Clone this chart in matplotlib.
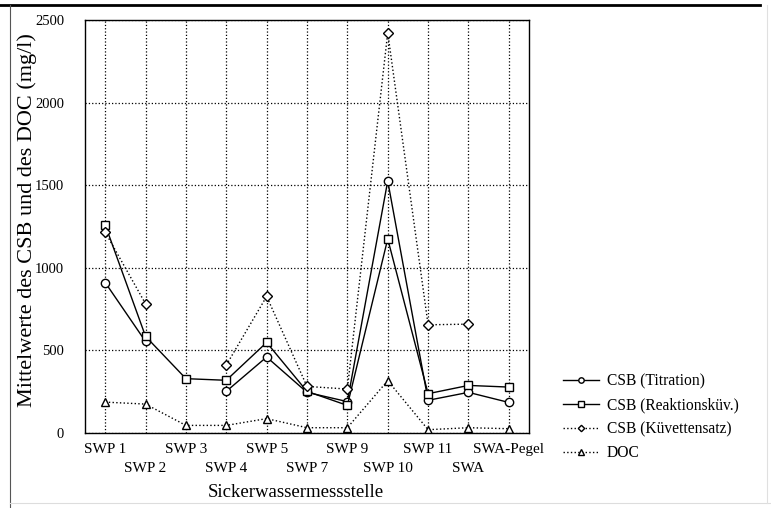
import numpy as np
import matplotlib
matplotlib.use("Agg")
import matplotlib.pyplot as plt
from matplotlib.lines import Line2D

plt.rcParams['font.family'] = ['Liberation Serif', 'DejaVu Serif']

categories = ["SWP 1", "SWP 2", "SWP 3", "SWP 4", "SWP 5", "SWP 7",
              "SWP 9", "SWP 10", "SWP 11", "SWA", "SWA-Pegel"]
nan = np.nan
csb_titration = [911, 554, nan, 252, 460, 246, 190, 1526, 198, 246, 185]
csb_reaktion = [1260, 585, 329, 319, 548, 252, 167, 1175, 238, 288, 278]
csb_kuevette = [1216, 782, nan, 411, 827, 282, 266, 2423, 655, 659, nan]
doc = [187, 175, 46, 46, 87, 32, 32, 317, 20, 32, 26]

fig = plt.figure(figsize=(7.71, 5.08), dpi=100)
W, H = 771, 508
ax = fig.add_axes([85 / W, 1 - 433 / H, (529 - 85) / W, (433 - 20) / H])

x = np.arange(len(categories))
mk = dict(markerfacecolor='white', markeredgecolor='black', markeredgewidth=1.0, color='black')
ax.plot(x, csb_titration, '-', marker='o', markersize=6, linewidth=1.0, label='CSB (Titration)', **mk)
ax.plot(x, csb_reaktion, '-', marker='s', markersize=6, linewidth=1.0, label='CSB (Reaktionsküv.)', **mk)
ax.plot(x, csb_kuevette, ':', marker='D', markersize=5, linewidth=1.0, label='CSB (Küvettensatz)', **mk)
ax.plot(x, doc, ':', marker='^', markersize=6, linewidth=1.0, label='DOC', **mk)

ax.set_xlim(-0.5, len(categories) - 0.5)
ax.set_ylim(0, 2500)
ax.set_yticks([0, 500, 1000, 1500, 2000, 2500])
ax.set_xticks(x)
ax.set_xticklabels(categories, fontsize=11)
ax.tick_params(axis='both', length=0)
ax.tick_params(axis='y', pad=15, labelsize=10.5)
for i, t in enumerate(ax.xaxis.get_major_ticks()):
    t.set_pad(7 if i % 2 == 0 else 21)
ax.grid(True, linestyle=':', color='black', linewidth=0.9)
ax.set_axisbelow(True)
for s in ax.spines.values():
    s.set_linewidth(1.0)

ax.set_ylabel('Mittelwerte des CSB und des DOC (mg/l)', fontsize=16)
ax.yaxis.set_label_coords((37 - 85) / 444, 0.515)
ax.set_xlabel('Sickerwassermessstelle', fontsize=13.5)
ax.xaxis.set_label_coords((296 - 85) / 444, (433 - 484) / 413)

leg = ax.legend(loc='upper left', bbox_to_anchor=(563 / W, 1 - 373 / H),
                bbox_transform=fig.transFigure, frameon=False, fontsize=11.2,
                borderpad=0, borderaxespad=0,
                handlelength=2.3, handletextpad=0.5, labelspacing=0.52, markerscale=0.65)

# figure frame
fig.add_artist(Line2D([0, 760 / W], [1 - 5 / H, 1 - 5 / H], transform=fig.transFigure,
                      color='black', linewidth=2.0))
fig.add_artist(Line2D([10 / W, 10 / W], [0, 1 - 5 / H], transform=fig.transFigure,
                      color='#555555', linewidth=0.8))
fig.add_artist(Line2D([10 / W, 1], [1 - 503 / H, 1 - 503 / H], transform=fig.transFigure,
                      color='#dddddd', linewidth=0.8))
fig.add_artist(Line2D([767 / W, 767 / W], [1 - 503 / H, 1 - 5 / H], transform=fig.transFigure,
                      color='#e0e0e0', linewidth=0.8))

fig.savefig('out.png', dpi=100)
